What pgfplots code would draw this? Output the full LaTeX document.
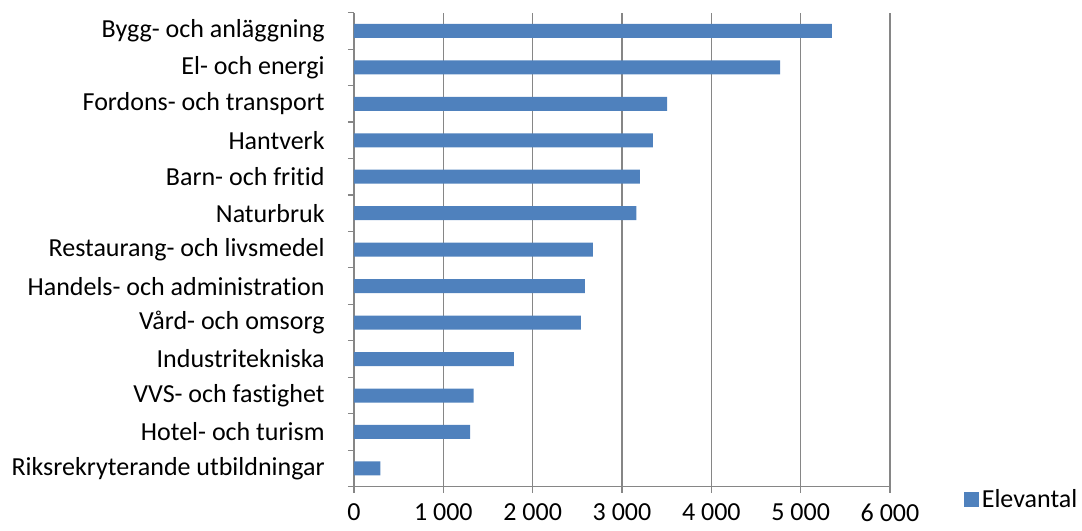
\documentclass[border=0pt]{standalone}
\usepackage{pgfplots}
\pgfplotsset{compat=1.18}
\usepackage{fontspec}
\setmainfont{Carlito}[Ligatures={NoCommon}]
\definecolor{barblue}{HTML}{4F81BD}
\definecolor{gridgray}{HTML}{868686}
\begin{document}
\begin{tikzpicture}
\begin{axis}[
  scale only axis,
  width=402pt, height=355.5pt,
  xbar, bar width=10.5pt,
  xmin=0, xmax=6000, ymin=-0.5, ymax=12.5,
  axis x line*=bottom, axis y line*=left,
  axis line style={gridgray, line width=0.9pt},
  tick align=outside,
  major tick length=4.5pt, minor tick length=4.5pt,
  xtick={0,1000,2000,3000,4000,5000,6000},
  xticklabels={0,1 000,2 000,3 000,4 000,5 000,6 000},
  major x tick style={gridgray, line width=0.9pt},
  xmajorgrids,
  major x grid style={gridgray, line width=0.9pt},
  ytick={0,1,2,3,4,5,6,7,8,9,10,11,12},
  yticklabels={Riksrekryterande utbildningar, Hotel- och turism, VVS- och fastighet, Industritekniska, Vård- och omsorg, Handels- och administration, Restaurang- och livsmedel, Naturbruk, Barn- och fritid, Hantverk, Fordons- och transport, El- och energi, Bygg- och anläggning},
  minor ytick={-0.5,0.5,1.5,2.5,3.5,4.5,5.5,6.5,7.5,8.5,9.5,10.5,11.5,12.5},
  major y tick style={draw=none},
  minor y tick style={gridgray, line width=0.9pt},
  ticklabel style={font=\fontsize{19.5pt}{22pt}\selectfont},
  yticklabel style={xshift=-14pt},
  xticklabel style={yshift=-7pt, inner sep=1pt},
  legend style={draw=none, at={(1.138,-0.028)}, anchor=west, font=\fontsize{19.5pt}{22pt}\selectfont, inner sep=0pt},
  legend image code/.code={\fill[barblue] (0pt,-5.6pt) rectangle (11.2pt,5.6pt);},
]
\addplot[fill=barblue, draw=none] coordinates {
 (295,0) (1300,1) (1340,2) (1790,3) (2540,4) (2585,5) (2675,6) (3160,7) (3200,8) (3345,9) (3505,10) (4770,11) (5350,12)};
\addlegendentry{Elevantal}
\coordinate (bl) at (rel axis cs:0,0);
\end{axis}
\pgfresetboundingbox
\path (bl) ++(-265.5pt,-33.25pt) coordinate (A);
\path (bl) ++(546pt,365pt) coordinate (B);
\useasboundingbox (A) rectangle (B);
\end{tikzpicture}
\end{document}
